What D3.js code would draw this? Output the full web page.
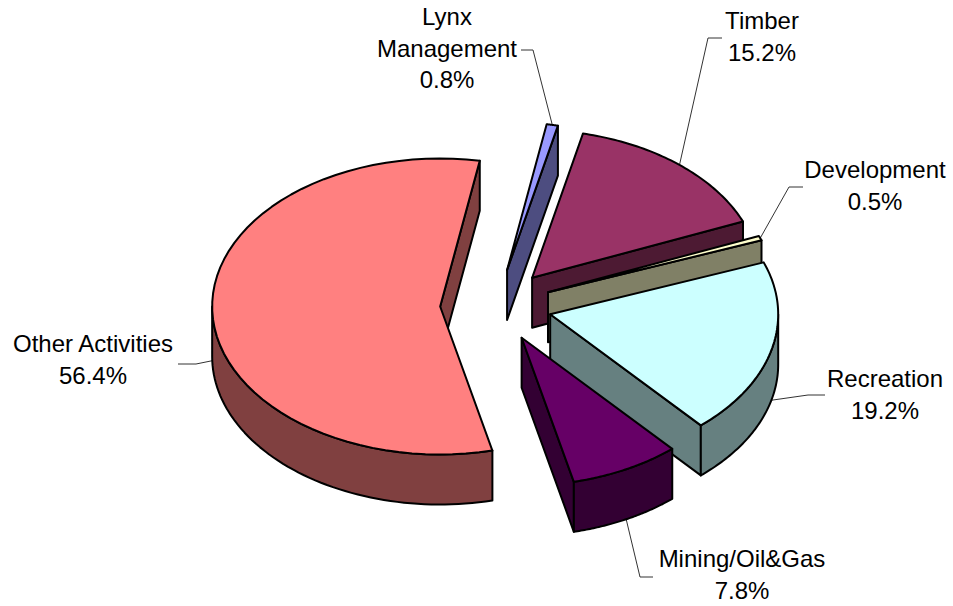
<!DOCTYPE html>
<html>
<head>
<meta charset="utf-8">
<style>
  html, body { margin: 0; padding: 0; background: #fff; }
  text { font-family: "Liberation Sans", Arial, sans-serif; font-size: 24px; fill: #000; }
</style>
<script src="https://cdn.jsdelivr.net/npm/d3@7"></script>
</head>
<body>
<div class="maintable"></div>
<script>
// 数据
var names = ["Lynx Management", "Timber", "Development", "Recreation", "Mining/Oil&Gas", "Other Activities"];
var values = [0.8, 15.2, 0.5, 19.2, 7.8, 56.4];
var topColors = ["#9999FF", "#993366", "#FFFFCC", "#CCFFFF", "#660066", "#FF8080"];
var wallColors = ["#4D4D80", "#4D1A33", "#808066", "#668080", "#330033", "#804040"];

// 标签位置 (中心x, 首行基线y)
var labelLines = [["Lynx", "Management", "0.8%"], ["Timber", "15.2%"], ["Development", "0.5%"], ["Recreation", "19.2%"], ["Mining/Oil&Gas", "7.8%"], ["Other Activities", "56.4%"]];
var labelX = [447, 762, 875, 885, 742, 93];
var labelY = [25, 29, 178, 387, 567, 352];
// 引线的外端和折点
var leaderStart = [[521, 50], [722, 38], [803, 187], [825, 395], [653, 577], [178, 364]];
var leaderElbow = [[533, 50], [708, 38], [789, 187], [808, 395], [640, 577], [196, 364]];

// 饼的几何
var cx = 496, cy = 305.5;
var rx = 228, ry = 148;
var depth = 50;
var explode = 0.245;
var startDeg = 10;
var rad = Math.PI / 180;
var drawOrder = [0, 1, 2, 3, 5, 4];

var svg = d3.select(".maintable").append("svg")
  .attr("width", 953)
  .attr("height", 606);

var slices = d3.pie().sort(null)
  .startAngle(startDeg * rad)
  .endAngle((startDeg + 360) * rad)(values);

// 椭圆上的点
function rim(o, a) {
  return [o[0] + rx * Math.sin(a), o[1] - ry * Math.cos(a)];
}
function down(p) {
  return [p[0], p[1] + depth];
}
function apexOf(s) {
  var mid = (s.startAngle + s.endAngle) / 2;
  return [cx + explode * rx * Math.sin(mid), cy - explode * ry * Math.cos(mid)];
}
function arcPoints(o, a0, a1) {
  return d3.range(0, 61).map(function(i) {
    return rim(o, a0 + (a1 - a0) * i / 60);
  });
}
var line = d3.line();

// 引线
function drawLeader(i) {
  var s = slices[i];
  var mid = (s.startAngle + s.endAngle) / 2;
  var p = rim(apexOf(s), mid);
  if (Math.cos(mid) < 0) p = down(p);
  svg.append("path")
    .attr("d", line([leaderStart[i], leaderElbow[i], p]))
    .attr("fill", "none")
    .attr("stroke", "#333")
    .attr("stroke-width", 1);
}

function face(g, pts, fill) {
  g.append("path")
    .attr("d", line(pts) + "Z")
    .attr("fill", fill)
    .attr("stroke", "#000")
    .attr("stroke-width", 2)
    .attr("stroke-linejoin", "round");
}

values.forEach(function(v, i) { drawLeader(i); });

drawOrder.forEach(function(i) {
  var s = slices[i];
  var o = apexOf(s);
  var g = svg.append("g").attr("class", "slice");

  // 径向侧面 (终止边朝向观察者时可见)
  if (Math.sin(s.endAngle) > 0) {
    var e = rim(o, s.endAngle);
    face(g, [o, e, down(e), down(o)], wallColors[i]);
  }

  // 外弧侧面 只画前半圈
  var a0 = Math.max(s.startAngle, 90 * rad);
  var a1 = Math.min(s.endAngle, 270 * rad);
  if (a1 > a0) {
    var top = arcPoints(o, a0, a1);
    var bottom = top.map(down).reverse();
    face(g, top.concat(bottom), wallColors[i]);
  }

  // 顶面
  face(g, [o].concat(arcPoints(o, s.startAngle, s.endAngle)), topColors[i]);
});

// 标签
labelLines.forEach(function(lines, i) {
  lines.forEach(function(t, k) {
    svg.append("text")
      .attr("x", labelX[i])
      .attr("y", labelY[i] + k * 31.7)
      .attr("text-anchor", "middle")
      .text(t);
  });
});
</script>
</body>
</html>
